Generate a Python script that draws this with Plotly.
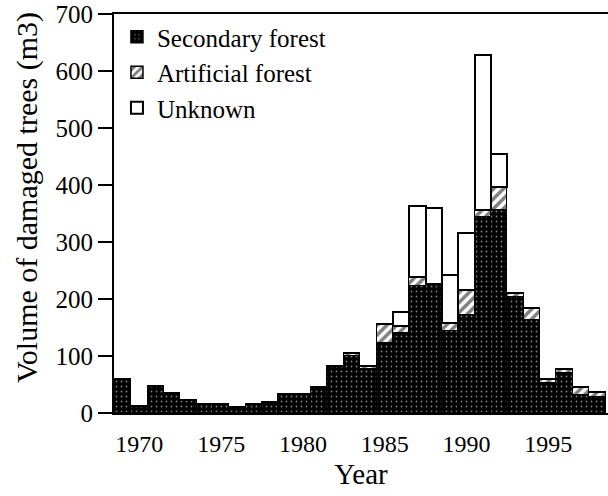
import plotly.graph_objects as go

years = list(range(1969, 1999))
secondary = [60, 13, 48, 35, 22, 15, 15, 10, 16, 20, 33, 34, 45, 82, 100, 78,
             122, 140, 222, 226, 143, 172, 343, 356, 204, 163, 52, 70, 32, 28]
artificial = [0, 0, 0, 0, 0, 0, 0, 0, 0, 0, 0, 0, 0, 0, 5, 4,
              34, 12, 16, 0, 15, 44, 13, 41, 6, 22, 7, 8, 13, 9]
unknown = [0, 0, 0, 0, 0, 0, 0, 0, 0, 0, 0, 0, 0, 0, 0, 0,
           0, 26, 126, 133, 84, 99, 272, 58, 0, 0, 0, 0, 0, 0]
x_ticks = [1970, 1975, 1980, 1985, 1990, 1995]
y_ticks = [0, 100, 200, 300, 400, 500, 600, 700]

FONT = "Liberation Serif"

fig = go.Figure()
fig.add_trace(go.Bar(
    x=years, y=secondary, name="Secondary forest",
    marker=dict(color="black", line=dict(color="black", width=1.5),
                pattern=dict(shape=".", fgcolor="white", size=5, solidity=0.1,
                             fillmode="overlay")),
))
fig.add_trace(go.Bar(
    x=years, y=artificial, name="Artificial forest",
    marker=dict(color="white", line=dict(color="black", width=1.5),
                pattern=dict(shape="/", fgcolor="black", size=7, solidity=0.5,
                             fillmode="overlay")),
))
fig.add_trace(go.Bar(
    x=years, y=unknown, name="Unknown",
    marker=dict(color="white", line=dict(color="black", width=2)),
))

fig.update_layout(
    width=608, height=496,
    barmode="stack", bargap=0,
    plot_bgcolor="white", paper_bgcolor="white",
    margin=dict(l=114, r=0, t=14, b=83),
    font=dict(family=FONT, size=24, color="black"),
    legend=dict(x=0.006, y=1.0, xanchor="left", yanchor="top",
                traceorder="normal", bgcolor="rgba(0,0,0,0)",
                font=dict(family=FONT, size=25, color="black"),
                itemwidth=30, tracegroupgap=0),
    xaxis=dict(range=[1968.45, 1998.65], tickvals=x_ticks,
               ticktext=[str(v) for v in x_ticks],
               showline=True, linecolor="black", linewidth=2, mirror=True,
               ticks="", showgrid=False, zeroline=False, automargin=False,
               ticklabelstandoff=8,
               tickfont=dict(family=FONT, size=24),
               title=dict(text="Year", font=dict(family=FONT, size=29), standoff=8)),
    yaxis=dict(range=[0, 700], tickvals=y_ticks,
               showline=True, linecolor="black", linewidth=2, mirror=False,
               ticks="outside", ticklen=14, tickwidth=1.5, tickcolor="black",
               showgrid=False, zeroline=False, automargin=False,
               ticklabeloverflow="allow",
               tickfont=dict(family=FONT, size=25)),
    annotations=[dict(text="Volume of damaged trees (m3)", textangle=-90,
                      xref="paper", yref="paper", x=-0.176, y=0.539,
                      xanchor="center", yanchor="middle", showarrow=False,
                      font=dict(family=FONT, size=30, color="black"))],
)

fig.write_html("out.html", config={"displayModeBar": False},
               post_script="document.body.style.margin='0';document.body.style.overflow='hidden';")
